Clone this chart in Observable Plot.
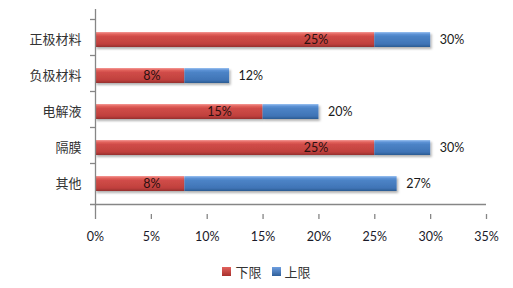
<!DOCTYPE html>
<html>
<head>
<meta charset="utf-8">
<script src="https://cdn.jsdelivr.net/npm/d3@7"></script>
<script src="https://cdn.jsdelivr.net/npm/@observablehq/plot@0.6"></script>
<style>
  html, body { margin: 0; padding: 0; background: #fff; }
  #chart { width: 513px; font-family: "Noto Sans CJK SC", Lato, sans-serif; }
  .legend { height: 34px; display: flex; justify-content: center; align-items: center; gap: 10px;
            font-size: 13px; color: #333; padding-left: 20px; }
  .legend span.item { display: flex; align-items: center; gap: 4px; }
  .legend i { display: inline-block; width: 9px; height: 9px; }
</style>
</head>
<body>
<div id="chart"></div>
<script>
// Cost share ranges per component
const categories = ["正极材料", "负极材料", "电解液", "隔膜", "其他"];
const lower = [25, 8, 15, 25, 8];   // 下限
const upper = [30, 12, 20, 30, 27]; // 上限
const xTicks = [0, 5, 10, 15, 20, 25, 30, 35];
const seriesNames = ["下限", "上限"];

const data = categories.map((c, i) => ({cat: c, lo: lower[i], hi: upper[i]}));

const axisColor = "#868686";
const half = 20.5; // half of one category band, for the band-edge ticks

const svg = Plot.plot({
  width: 513,
  height: 254,
  marginLeft: 95,
  marginRight: 27,
  marginTop: 9,
  marginBottom: 40,
  style: {fontFamily: "Lato, 'Noto Sans CJK SC', sans-serif", background: "#fff"},
  x: {domain: [0, 35]},
  y: {domain: categories, padding: 0.57},
  marks: [
    // lower-bound part
    Plot.barX(data, {y: "cat", x1: d => 0, x2: "lo", fill: "url(#gRed)"}),
    // span up to the upper bound
    Plot.barX(data, {y: "cat", x1: "lo", x2: "hi", fill: "url(#gBlue)"}),
    // vertical axis line and band-edge ticks
    Plot.ruleX([0], {stroke: axisColor, strokeWidth: 1.3}),
    Plot.ruleY(categories, {y: d => d, x1: d => 0, x2: d => 0, insetLeft: -5, dy: -half, stroke: axisColor, strokeWidth: 1.3}),
    Plot.ruleY([categories[categories.length - 1]], {y: d => d, x1: d => 0, x2: d => 35, insetLeft: -5, dy: half, stroke: axisColor, strokeWidth: 1.3}),
    // x axis
    Plot.axisX({ticks: xTicks, tickFormat: d => d + "%", tickSize: 5, tickPadding: 13,
                stroke: axisColor, strokeWidth: 1.3, fontSize: 12.5, fill: "#1a1a2a", label: null}),
    Plot.axisY({tickSize: 0, tickPadding: 14, fontSize: 13, fill: "#333", label: null,
                fontFamily: "'Noto Sans CJK SC', sans-serif"}),
    // value labels
    Plot.text(data, {y: "cat", x: d => d.lo * 0.864 - 1.87, text: d => d.lo + "%",
                     fontSize: 12.5, fill: "#2a1010"}),
    Plot.text(data, {y: "cat", x: "hi", text: d => d.hi + "%", dx: 9, textAnchor: "start",
                     fontSize: 12.5, fill: "#1a1a1a"})
  ]
});

// gradients and soft shadow for the bevelled bars
const defs = d3.select(svg).insert("defs", ":first-child");
function grad(id, stops) {
  const g = defs.append("linearGradient").attr("id", id)
    .attr("x1", 0).attr("y1", 0).attr("x2", 0).attr("y2", 1);
  stops.forEach(([o, c]) => g.append("stop").attr("offset", o).attr("stop-color", c));
}
grad("gRed", [[0, "#f59a96"], [0.14, "#e2625d"], [0.3, "#d04c48"], [0.8, "#c0403d"], [1, "#95302d"]]);
grad("gBlue", [[0, "#9cc3f2"], [0.14, "#5d93d6"], [0.3, "#4c83c6"], [0.8, "#3f74b6"], [1, "#2c5a92"]]);
const f = defs.append("filter").attr("id", "shadow").attr("x", "-5%").attr("y", "-30%")
  .attr("width", "115%").attr("height", "180%");
f.append("feDropShadow").attr("dx", 1.5).attr("dy", 2).attr("stdDeviation", 1.3)
  .attr("flood-color", "#000").attr("flood-opacity", 0.3);
d3.select(svg).selectAll("g[aria-label='bar']").attr("filter", "url(#shadow)");

document.getElementById("chart").appendChild(svg);

// legend below the chart
const legend = d3.select("#chart").append("div").attr("class", "legend");
[["url(#gRed)", "linear-gradient(#e2625d, #a8302d)"], ["", "linear-gradient(#6d9ee0, #2f5f9a)"]].forEach((s, i) => {
  const item = legend.append("span").attr("class", "item");
  item.append("i").style("background", s[1]);
  item.append("span").text(seriesNames[i]);
});
</script>
</body>
</html>
